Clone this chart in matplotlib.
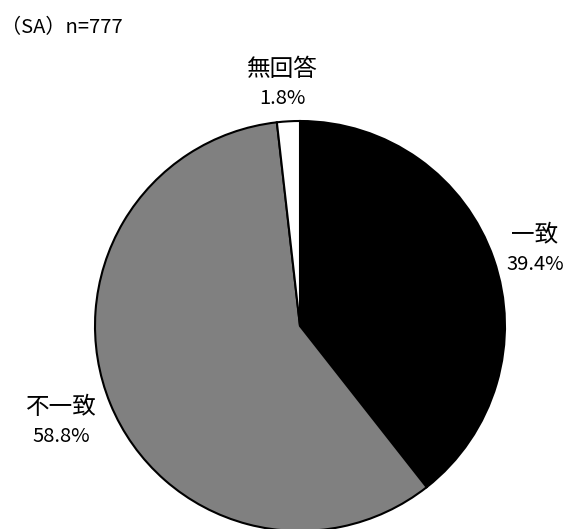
import matplotlib.pyplot as plt

plt.rcParams['font.family'] = ['Noto Sans CJK JP', 'DejaVu Sans']

# data
labels = ['一致', '不一致', '無回答']
values = [39.4, 58.8, 1.8]
colors = ['#000000', '#808080', '#ffffff']
n_total = 777

W, H = 566, 529
fig = plt.figure(figsize=(W / 100, H / 100), dpi=100)
ax = fig.add_axes([0, 0, 1, 1])
ax.set_xlim(0, W)
ax.set_ylim(0, H)
ax.set_aspect('equal')
ax.axis('off')

# pie in pixel coordinates (y measured from bottom)
cx, cy, r = 300, H - 326, 205
ax.pie(values, colors=colors, startangle=90, counterclock=False,
       center=(cx, cy), radius=r,
       wedgeprops=dict(edgecolor='black', linewidth=1.5))
ax.set_xlim(0, W)
ax.set_ylim(0, H)

ax.text(1, H - 28, '（SA）n=%d' % n_total, fontsize=14.5, va='center', ha='left')

# label positions (pixels from top)
label_pos = {'一致': (535, 235), '不一致': (61, 408), '無回答': (282, 69)}
for lab, v in zip(labels, values):
    x, y = label_pos[lab]
    ax.text(x, H - y, lab, fontsize=17, ha='center', va='center')
    ax.text(x, H - y - 29, '%.1f%%' % v, fontsize=14.5, ha='center', va='center')

fig.savefig('out.png', dpi=100)
